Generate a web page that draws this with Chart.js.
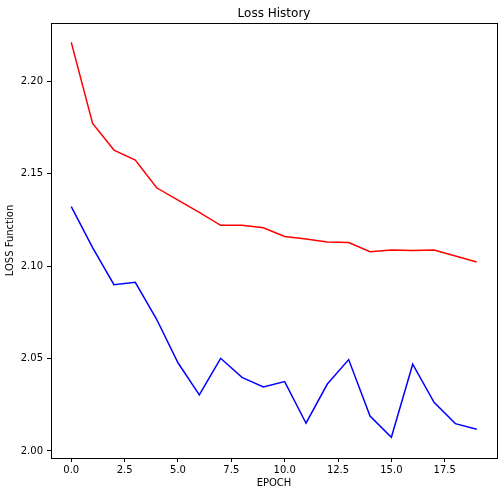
<!DOCTYPE html>
<html>
<head>
<meta charset="utf-8">
<script src="https://cdn.jsdelivr.net/npm/chart.js@4/dist/chart.umd.min.js"></script>
<style>
  html, body { margin: 0; padding: 0; background: #fff; }
  #lossChart { display: block; }
</style>
</head>
<body>
<canvas id="lossChart" width="504" height="496"></canvas>
<script>
const epochs = [0, 1, 2, 3, 4, 5, 6, 7, 8, 9, 10, 11, 12, 13, 14, 15, 16, 17, 18, 19];
const redLoss = [2.2209, 2.1771, 2.1627, 2.1573, 2.1423, 2.1356, 2.1290, 2.1220, 2.1221, 2.1207,
                 2.1160, 2.1146, 2.1130, 2.1127, 2.1077, 2.1086, 2.1084, 2.1086, 2.1054, 2.1022];
const blueLoss = [2.1321, 2.1100, 2.0899, 2.0912, 2.0712, 2.0477, 2.0303, 2.0501, 2.0398, 2.0346,
                  2.0375, 2.0150, 2.0362, 2.0494, 2.0189, 2.0074, 2.0469, 2.0263, 2.0148, 2.0117];
const xTicks = [0, 2.5, 5, 7.5, 10, 12.5, 15, 17.5];
const yTicks = [2.00, 2.05, 2.10, 2.15, 2.20];

const FONT = 'DejaVu Sans, sans-serif';

// draws the title and the full box round the plot area
const framePlugin = {
    id: 'frame',
    afterDraw(chart) {
        const { ctx, chartArea } = chart;
        ctx.save();
        ctx.strokeStyle = '#000';
        ctx.lineWidth = 1;
        ctx.strokeRect(Math.round(chartArea.left) + 0.5, Math.round(chartArea.top) + 0.5,
            Math.round(chartArea.right - chartArea.left), Math.round(chartArea.bottom - chartArea.top));
        ctx.fillStyle = '#000';
        ctx.font = '12px ' + FONT;
        ctx.textAlign = 'center';
        ctx.textBaseline = 'alphabetic';
        ctx.fillText('Loss History', (chartArea.left + chartArea.right) / 2, 17);
        ctx.restore();
    }
};

const toPoints = (ys) => epochs.map((x, i) => ({ x: x, y: ys[i] }));

new Chart(document.getElementById('lossChart'), {
    type: 'line',
    data: {
        datasets: [
            {
                label: 'train',
                data: toPoints(redLoss),
                borderColor: '#ff0000',
                borderWidth: 1.5,
                pointRadius: 0,
                tension: 0,
                fill: false
            },
            {
                label: 'val',
                data: toPoints(blueLoss),
                borderColor: '#0000ff',
                borderWidth: 1.5,
                pointRadius: 0,
                tension: 0,
                fill: false
            }
        ]
    },
    options: {
        responsive: false,
        animation: false,
        layout: {
            padding: { top: 23, right: 7, bottom: 0, left: 0 }
        },
        plugins: {
            legend: { display: false },
            tooltip: { enabled: false },
            title: { display: false }
        },
        scales: {
            x: {
                type: 'linear',
                min: -0.95,
                max: 19.95,
                afterBuildTicks: (axis) => { axis.ticks = xTicks.map(v => ({ value: v })); },
                afterFit: (axis) => { axis.height = 38; },
                grid: { display: true, drawOnChartArea: false, drawTicks: true, tickLength: 4, color: '#000' },
                border: { display: false },
                ticks: {
                    color: '#000',
                    padding: 2,
                    maxRotation: 0,
                    font: { size: 10, family: FONT },
                    callback: (v) => v.toFixed(1)
                },
                title: {
                    display: true,
                    text: 'EPOCH',
                    color: '#000',
                    font: { size: 10, family: FONT },
                    padding: { top: 0, bottom: 7 }
                }
            },
            y: {
                min: 1.9962,
                max: 2.2314,
                afterBuildTicks: (axis) => { axis.ticks = yTicks.map(v => ({ value: v })); },
                afterFit: (axis) => { axis.width = 51; },
                grid: { display: true, drawOnChartArea: false, drawTicks: true, tickLength: 4, color: '#000' },
                border: { display: false },
                ticks: {
                    color: '#000',
                    padding: 4,
                    font: { size: 10, family: FONT },
                    callback: (v) => v.toFixed(2)
                },
                title: {
                    display: true,
                    text: 'LOSS Function',
                    color: '#000',
                    font: { size: 10, family: FONT },
                    padding: { top: 4, bottom: 0 }
                }
            }
        }
    },
    plugins: [framePlugin]
});
</script>
</body>
</html>
